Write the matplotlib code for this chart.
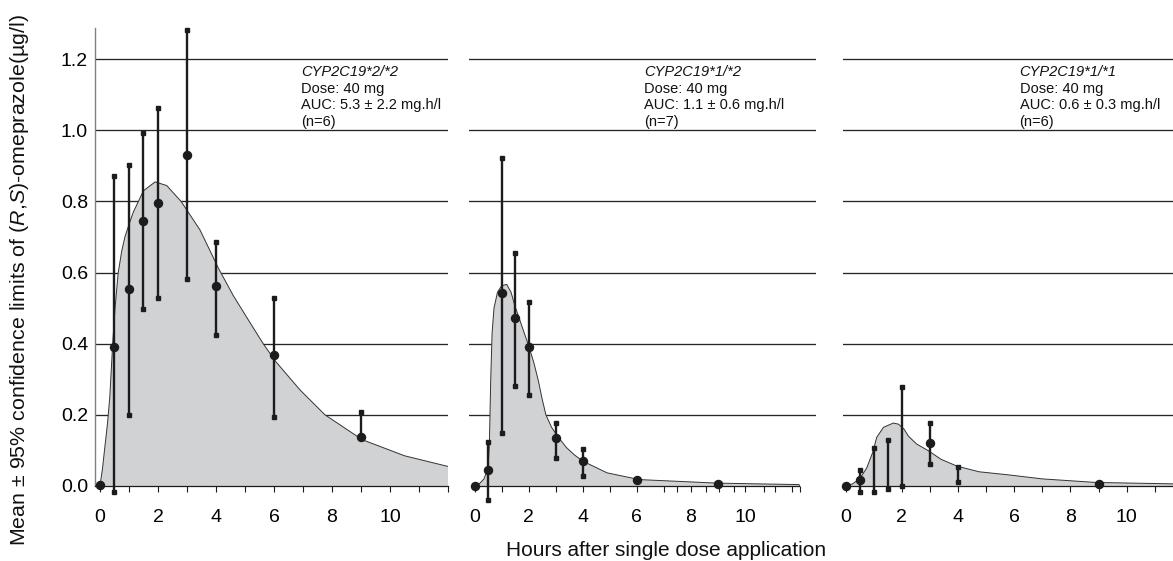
import numpy as np
import matplotlib

matplotlib.use('Agg')
import matplotlib.pyplot as plt

plt.rcParams['font.family'] = ['Liberation Sans', 'DejaVu Sans']
plt.rcParams['mathtext.fontset'] = 'custom'
plt.rcParams['mathtext.rm'] = 'Liberation Sans'
plt.rcParams['mathtext.it'] = 'Liberation Sans:italic'

nan = np.nan

# --- data (hours, µg/l) ---
# CYP2C19*2/*2
t1 = [0, 0.5, 1, 1.5, 2, 3, 4, 6, 9]
mean1 = [0.003, 0.39, 0.555, 0.745, 0.795, 0.932, 0.563, 0.367, 0.137]
lo1 = [nan, -0.017, 0.201, 0.497, 0.528, 0.582, 0.426, 0.193, 0.14]
hi1 = [nan, 0.871, 0.904, 0.992, 1.064, 1.281, 0.687, 0.528, 0.208]
fit_t1 = [0, 0.09, 0.17, 0.26, 0.34, 0.44, 0.52, 0.63, 0.75, 0.86, 1.0, 1.15, 1.5, 1.9, 2.3,
          2.8, 3.45, 4.1, 4.6, 5.17, 5.63, 6.06, 6.9, 7.76, 9.05, 10.5, 12.0]
fit_c1 = [0, 0.05, 0.11, 0.175, 0.25, 0.40, 0.50, 0.60, 0.66, 0.70, 0.735, 0.77, 0.83, 0.855,
          0.845, 0.80, 0.72, 0.61, 0.535, 0.46, 0.40, 0.35, 0.27, 0.20, 0.13, 0.085, 0.055]

# CYP2C19*1/*2
t2 = [0, 0.5, 1, 1.5, 2, 3, 4, 6, 9]
mean2 = [0.0, 0.045, 0.543, 0.472, 0.392, 0.135, 0.07, 0.018, 0.006]
lo2 = [nan, -0.038, 0.148, 0.28, 0.255, 0.078, 0.027, nan, nan]
hi2 = [nan, 0.123, 0.923, 0.655, 0.517, 0.177, 0.105, nan, nan]
fit_t2 = [0, 0.2, 0.35, 0.5, 0.55, 0.6, 0.65, 0.72, 0.85, 1.0, 1.19, 1.35, 1.5, 1.75, 2.0,
          2.2, 2.36, 2.5, 2.64, 2.85, 3.1, 3.4, 3.7, 4.0, 4.9, 6.1, 9.0, 12.0]
fit_c2 = [0, 0.008, 0.02, 0.05, 0.12, 0.30, 0.43, 0.50, 0.545, 0.563, 0.567, 0.545, 0.505,
          0.45, 0.395, 0.345, 0.296, 0.245, 0.20, 0.165, 0.137, 0.108, 0.087, 0.07, 0.037,
          0.018, 0.008, 0.004]

# CYP2C19*1/*1
t3 = [0, 0.5, 1, 1.5, 2, 3, 4, 9]
mean3 = [0.0, 0.017, nan, nan, nan, 0.12, nan, 0.005]
lo3 = [nan, -0.016, -0.016, -0.009, 0.0, 0.063, 0.01, nan]
hi3 = [nan, 0.044, 0.107, 0.13, 0.279, 0.177, 0.054, nan]
fit_t3 = [0, 0.25, 0.5, 0.75, 0.97, 1.11, 1.35, 1.70, 1.88, 2.08, 2.24, 2.53, 2.93, 3.4,
          3.96, 4.75, 5.83, 7.0, 8.9, 11.65]
fit_c3 = [0, 0.006, 0.02, 0.05, 0.095, 0.137, 0.165, 0.177, 0.174, 0.16, 0.14, 0.118, 0.1,
          0.075, 0.056, 0.04, 0.031, 0.02, 0.01, 0.006]

grid_levels = [0.2, 0.4, 0.6, 0.8, 1.0, 1.2]
y_ticks = [0.0, 0.2, 0.4, 0.6, 0.8, 1.0, 1.2]
x_major = [0, 2, 4, 6, 8, 10]

labels = [
    ('CYP2C19*2/*2', 'Dose: 40 mg', 'AUC: 5.3 ± 2.2 mg.h/l', '(n=6)'),
    ('CYP2C19*1/*2', 'Dose: 40 mg', 'AUC: 1.1 ± 0.6 mg.h/l', '(n=7)'),
    ('CYP2C19*1/*1', 'Dose: 40 mg', 'AUC: 0.6 ± 0.3 mg.h/l', '(n=6)'),
]

FILL = '#d1d2d4'
INK = '#1c1c1c'

W, H = 1173, 561
fig = plt.figure(figsize=(W / 100, H / 100), dpi=100)


def make_axes(left_px, right_px, xlim):
    ax = fig.add_axes([left_px / W, 1 - 486 / H, (right_px - left_px) / W, (486 - 28.3) / H])
    ax.set_xlim(*xlim)
    ax.set_ylim(0, 1.287)
    for s in ('top', 'right'):
        ax.spines[s].set_visible(False)
    ax.spines['bottom'].set_color(INK)
    ax.spines['bottom'].set_linewidth(0.9)
    ax.set_xticks(x_major)
    ax.set_xticklabels([str(v) for v in x_major])
    ax.tick_params(axis='x', which='both', direction='out', length=4.2, width=0.8,
                   color=INK, labelsize=14, pad=12)
    return ax


def draw_panel(ax, t, mean, lo, hi, fit_t, fit_c, text_x, lines):
    for g in grid_levels:
        ax.axhline(g, color='#262626', lw=0.95, zorder=1)
    ax.fill_between(fit_t, fit_c, 0, facecolor=FILL, edgecolor='none', zorder=2)
    ax.plot(fit_t, fit_c, color='#333333', lw=0.7, zorder=3)
    ax.plot([fit_t[-1], fit_t[-1]], [0, fit_c[-1]], color='#555555', lw=0.7, zorder=3)
    t = np.array(t, dtype=float)
    lo = np.array(lo, dtype=float)
    hi = np.array(hi, dtype=float)
    ok = ~np.isnan(lo)
    ax.vlines(t[ok], lo[ok], hi[ok], color=INK, lw=1.7, zorder=4, clip_on=False)
    ax.plot(t[ok], lo[ok], 's', ms=2.5, color=INK, zorder=4, clip_on=False)
    ax.plot(t[ok], hi[ok], 's', ms=2.5, color=INK, zorder=4, clip_on=False)
    ax.plot(t, mean, 'o', ms=5.8, color=INK, zorder=5, clip_on=False)

    # annotation block, baselines in pixel rows 76.5 + n*16.4
    for i, s in enumerate(lines):
        y = (486 - (76.5 + i * 16.4)) / 355.6
        ax.text(text_x, y, s, fontsize=10.5, va='baseline', ha='left', color='#111111',
                style='italic' if i == 0 else 'normal', zorder=6)


# panel 1
ax1 = make_axes(95, 448, (-0.17, 12.0))
ax1.spines['left'].set_color('#808080')
ax1.spines['left'].set_linewidth(1.0)
ax1.set_yticks(y_ticks)
ax1.set_yticklabels(['%.1f' % v for v in y_ticks])
ax1.tick_params(axis='y', length=0, labelsize=14, pad=5)
ax1.set_xticks([1, 3, 5, 7, 9, 11, 12], minor=True)
draw_panel(ax1, t1, mean1, lo1, hi1, fit_t1, fit_c1, 6.93, labels[0])

# panel 2
ax2 = make_axes(469.1, 816.1, (-0.2, 12.63))
ax2.spines['left'].set_visible(False)
ax2.set_yticks([])
ax2.spines['bottom'].set_bounds(-0.05, 12.0)
ax2.set_xticks([1, 3, 5, 7, 7.5, 8.55, 9.05, 9.6, 10.7, 11.1, 11.75, 12.05], minor=True)
draw_panel(ax2, t2, mean2, lo2, hi2, fit_t2, fit_c2, 6.27, labels[1])

# panel 3
ax3 = make_axes(843, 1173, (-0.09, 11.65))
ax3.spines['left'].set_visible(False)
ax3.set_yticks([])
ax3.set_xticks([1, 3, 5, 7, 9, 11], minor=True)
draw_panel(ax3, t3, mean3, lo3, hi3, fit_t3, fit_c3, 6.19, labels[2])

fig.text(20 / W, 1 - 280 / H,
         r'Mean ± 95% confidence limits of ($\mathit{R}$,$\mathit{S}$)-omeprazole(µg/l)',
         rotation=90, ha='center', va='center', fontsize=15.4, color='#111111')
fig.text(666 / W, 1 - 550 / H, 'Hours after single dose application',
         ha='center', va='center', fontsize=15, color='#111111')

fig.savefig('out.png', dpi=100)
plt.close(fig)
